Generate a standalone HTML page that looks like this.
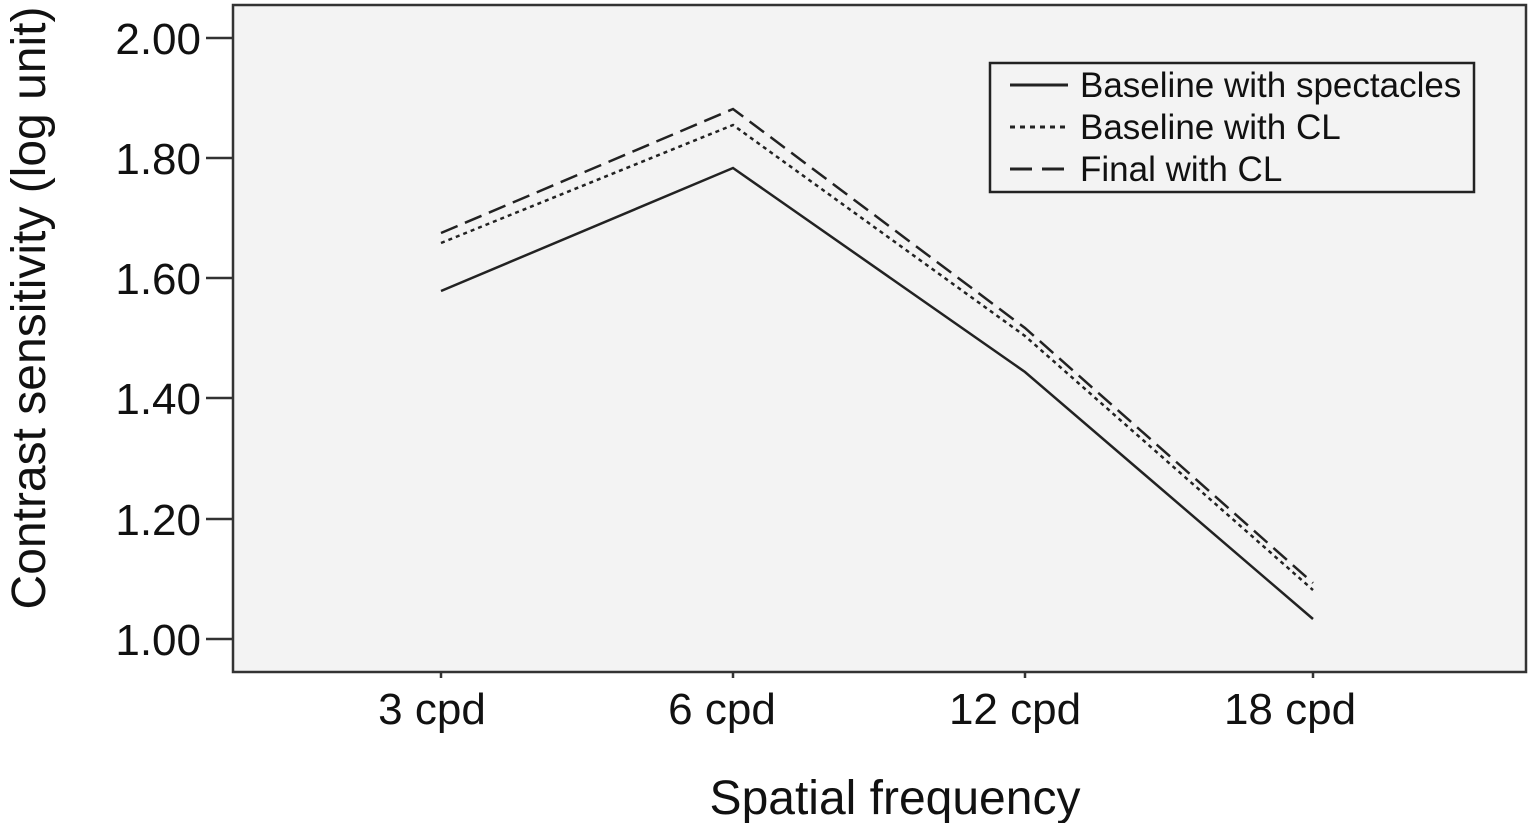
<!DOCTYPE html>
<html><head><meta charset="utf-8"><style>
html,body{margin:0;padding:0;background:#fff;}
svg{display:block;font-family:"Liberation Sans",Arial,sans-serif;}
</style></head><body>
<svg width="1532" height="823" viewBox="0 0 1532 823">
<rect x="233" y="5" width="1293" height="667" fill="#f3f3f3" stroke="#333" stroke-width="2.5"/>
<g stroke="#333" stroke-width="2.5">
<line x1="206" y1="38" x2="233" y2="38"/>
<line x1="206" y1="158" x2="233" y2="158"/>
<line x1="206" y1="278" x2="233" y2="278"/>
<line x1="206" y1="398" x2="233" y2="398"/>
<line x1="206" y1="519" x2="233" y2="519"/>
<line x1="206" y1="639" x2="233" y2="639"/>
<line x1="441" y1="672" x2="441" y2="678"/>
<line x1="733" y1="672" x2="733" y2="678"/>
<line x1="1025" y1="672" x2="1025" y2="678"/>
<line x1="1313" y1="672" x2="1313" y2="678"/>
</g>
<g font-size="44" fill="#111" text-anchor="end">
<text x="201" y="54">2.00</text>
<text x="201" y="174">1.80</text>
<text x="201" y="294">1.60</text>
<text x="201" y="414">1.40</text>
<text x="201" y="535">1.20</text>
<text x="201" y="655">1.00</text>
</g>
<g font-size="44" fill="#111" text-anchor="middle">
<text x="432" y="724">3 cpd</text>
<text x="722" y="724">6 cpd</text>
<text x="1015" y="724">12 cpd</text>
<text x="1290" y="724">18 cpd</text>
<text x="895" y="814" font-size="48">Spatial frequency</text>
</g>
<text transform="translate(45,308) rotate(-90)" font-size="48" fill="#111" text-anchor="middle">Contrast sensitivity (log unit)</text>
<polyline points="441,291 733,168 1025,372 1313,619" fill="none" stroke="#222" stroke-width="2.5"/>
<polyline points="441,243 733,125 1025,336 1313,590" fill="none" stroke="#222" stroke-width="2.5" stroke-dasharray="4,4"/>
<polyline points="441,233 733,109 1025,328 1313,583" fill="none" stroke="#222" stroke-width="2.5" stroke-dasharray="18,8"/>
<rect x="990" y="63" width="484" height="129" fill="#f3f3f3" stroke="#222" stroke-width="2.5"/>
<g stroke="#222" stroke-width="3">
<line x1="1010" y1="85" x2="1068" y2="85"/>
<line x1="1010" y1="127" x2="1068" y2="127" stroke-dasharray="5,5"/>
<line x1="1010" y1="169" x2="1068" y2="169" stroke-dasharray="22,10"/>
</g>
<g font-size="35" fill="#111">
<text x="1080" y="97">Baseline with spectacles</text>
<text x="1080" y="139">Baseline with CL</text>
<text x="1080" y="181">Final with CL</text>
</g>
</svg>
</body></html>
